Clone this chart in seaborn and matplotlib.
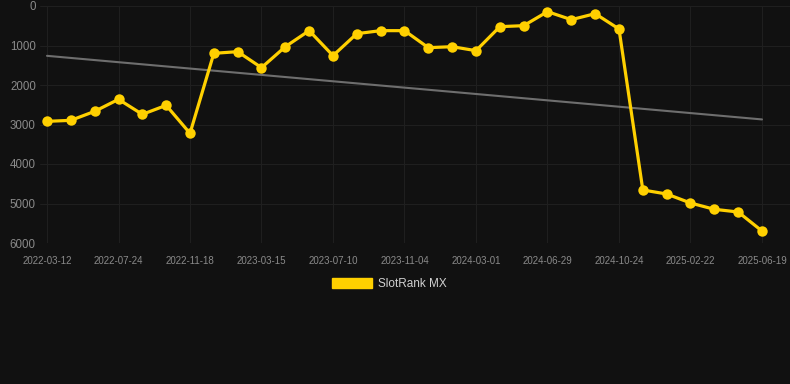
import numpy as np
import pandas as pd
import matplotlib
matplotlib.use("Agg")
import matplotlib.pyplot as plt
from matplotlib.patches import Patch
import seaborn as sns

# rank values, one every ~39 days (tick labels shown every 3rd point)
rank = [2920, 2895, 2667, 2363, 2743, 2515, 3224, 1198, 1156, 1561,
        1030, 624, 1257, 700, 624, 624, 1055, 1030, 1131, 523,
        498, 143, 346, 194, 582, 4658, 4759, 4987, 5147, 5215, 5696]
tick_labels = ["2022-03-12", "2022-07-24", "2022-11-18", "2023-03-15",
               "2023-07-10", "2023-11-04", "2024-03-01", "2024-06-29",
               "2024-10-24", "2025-02-22", "2025-06-19"]
series_name = "SlotRank MX"

df = pd.DataFrame({"idx": np.arange(len(rank)), "rank": rank})

bg = "#111111"
yellow = "#FFD000"

sns.set_theme(style="dark")
plt.rcParams["font.family"] = ["Liberation Sans", "DejaVu Sans"]

fig = plt.figure(figsize=(7.9, 3.84), dpi=100, facecolor=bg)
ax = fig.add_axes([40 / 790, 1 - 243 / 384, 750 / 790, 237 / 384])
ax.set_facecolor(bg)

# trend line (least squares)
sns.regplot(data=df, x="idx", y="rank", scatter=False, ci=None, ax=ax,
            line_kws={"color": "#6e6e6e", "linewidth": 1.5, "zorder": 2})

sns.lineplot(data=df, x="idx", y="rank", ax=ax, color=yellow, linewidth=2.3,
             marker="o", markersize=7.5, markeredgewidth=0, zorder=3)

ax.set_ylim(6000, 0)
ax.set_xlim(-7 / 23.83, 30 + 28 / 23.83)
ax.set_yticks(range(0, 6001, 1000))
ax.set_xticks(np.arange(0, len(rank), 3))
ax.set_xticklabels(tick_labels)
ax.set_xlabel("")
ax.set_ylabel("")

ax.grid(True, color="#1f1f1f", linewidth=0.75)
for s in ax.spines.values():
    s.set_visible(False)
ax.tick_params(axis="y", colors="#8a8a8a", labelsize=8.3, length=0, pad=3)
ax.tick_params(axis="x", colors="#8a8a8a", labelsize=7, length=0, pad=9)

handle = Patch(facecolor=yellow, edgecolor=yellow)
leg = fig.legend([handle], [series_name], loc="center",
                 bbox_to_anchor=(389 / 790, 1 - 284 / 384), frameon=False,
                 fontsize=8.5, handlelength=3.4, handleheight=0.9,
                 handletextpad=0.5)
for t in leg.get_texts():
    t.set_color("#d0d0d0")

fig.savefig("out.png", dpi=100, facecolor=bg)
